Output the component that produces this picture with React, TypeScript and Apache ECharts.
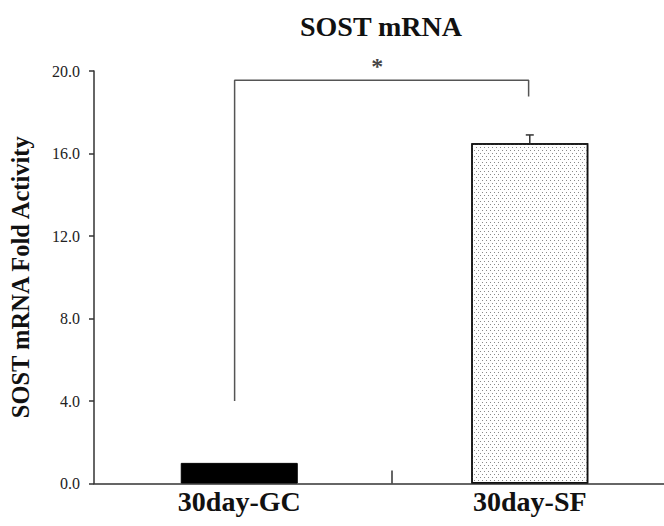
import React, { useEffect, useRef } from "react";
import * as echarts from "echarts";

const categories = ["30day-GC", "30day-SF"];
const categoryPositions = [0.5, 1.5];
const values = [1.0, 16.5];
const errors = [0, 0.4];
const yTicks = [0, 4, 8, 12, 16, 20];
const xMax = 1.962;
const dividerTick = [1.026];
// significance bracket: [x, y] in data units
const bracket = [
  [0.484, 4.0],
  [0.484, 19.55],
  [1.496, 19.55],
  [1.496, 18.76],
];
const star = [[0.975, 20.35]];
const title = "SOST mRNA";
const yName = "SOST mRNA Fold Activity";

const serif = "'Liberation Serif', 'Times New Roman', serif";

export default function App() {
  const ref = useRef<HTMLDivElement>(null);
  useEffect(() => {
    if (!ref.current) return;
    const chart = echarts.init(ref.current, undefined, { renderer: "svg" });
    const barData = values.map((v, i) => ({
      value: [categoryPositions[i], v],
      itemStyle:
        i === 0
          ? { color: "#000", borderColor: "#000", borderWidth: 1 }
          : {
              color: "#fff",
              borderColor: "#111",
              borderWidth: 1.5,
              decal: {
                symbol: "rect",
                symbolSize: 1,
                color: "#8a8a8a",
                dashArrayX: [
                  [1, 3],
                  [0, 2, 1, 1],
                ],
                dashArrayY: [1, 2],
                rotation: 0,
              },
            },
    }));
    const errData = values
      .map((v, i) => [categoryPositions[i], v, errors[i]])
      .filter((d) => d[2] > 0);
    chart.setOption({
      animation: false,
      backgroundColor: "#fff",
      title: {
        text: title,
        left: 376,
        textAlign: "center",
        top: 7,
        textStyle: { fontFamily: serif, fontSize: 28, fontWeight: "bold", color: "#111" },
      },
      grid: { left: 92, right: 0, top: 71, bottom: 42.5 },
      xAxis: {
        type: "value",
        min: 0,
        max: xMax,
        splitLine: { show: false },
        axisLine: { show: true, lineStyle: { color: "#333", width: 1.5 } },
        axisTick: {
          show: true,
          inside: true,
          length: 13,
          customValues: dividerTick,
          lineStyle: { color: "#333", width: 1.5 },
        },
        axisLabel: {
          customValues: categoryPositions,
          formatter: (v: number) => {
            const idx = categoryPositions.findIndex((p) => Math.abs(p - v) < 1e-6);
            return idx >= 0 ? categories[idx] : "";
          },
          fontFamily: serif,
          fontSize: 28,
          fontWeight: "bold",
          color: "#111",
          margin: 4,
        },
      },
      yAxis: {
        type: "value",
        min: yTicks[0],
        max: yTicks[yTicks.length - 1],
        interval: 4,
        name: yName,
        nameLocation: "middle",
        nameGap: 61,
        nameRotate: 90,
        nameTextStyle: { fontFamily: serif, fontSize: 24.5, fontWeight: "bold", color: "#111" },
        splitLine: { show: false },
        axisLine: { show: true, lineStyle: { color: "#333", width: 1.5 } },
        axisTick: { show: true, length: 5, lineStyle: { color: "#333", width: 1.5 } },
        axisLabel: {
          formatter: (v: number) => v.toFixed(1),
          fontFamily: serif,
          fontSize: 16,
          color: "#222",
          margin: 14,
        },
      },
      series: [
        {
          type: "bar",
          data: barData,
          barWidth: 117,
        },
        {
          type: "custom",
          data: errData,
          renderItem: (params: any, api: any) => {
            const x = api.value(0);
            const v = api.value(1);
            const e = api.value(2);
            const top = api.coord([x, v + e]);
            const bot = api.coord([x, v]);
            return {
              type: "group",
              children: [
                {
                  type: "line",
                  shape: { x1: top[0], y1: bot[1], x2: top[0], y2: top[1] },
                  style: { stroke: "#333", lineWidth: 1.5 },
                },
                {
                  type: "line",
                  shape: { x1: top[0] - 4, y1: top[1], x2: top[0] + 4, y2: top[1] },
                  style: { stroke: "#333", lineWidth: 1.5 },
                },
              ],
            };
          },
          z: 5,
        },
        {
          type: "line",
          data: bracket,
          symbol: "none",
          clip: false,
          lineStyle: { color: "#555", width: 1.5 },
          z: 6,
        },
        {
          type: "scatter",
          data: star,
          symbolSize: 0,
          clip: false,
          label: {
            show: true,
            formatter: "*",
            position: "inside",
            fontFamily: serif,
            fontSize: 24,
            fontWeight: "bold",
            color: "#111",
            offset: [0, 2],
          },
        },
      ],
    });
    return () => chart.dispose();
  }, []);
  return (
    <div
      ref={ref}
      style={{ position: "fixed", left: 0, top: 0, width: 664, height: 526, background: "#fff" }}
    />
  );
}
